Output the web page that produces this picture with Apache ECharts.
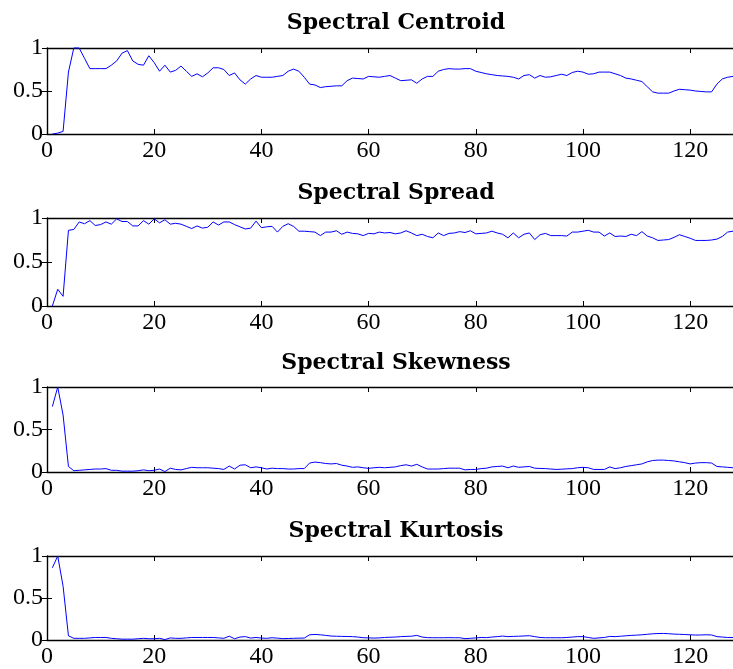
<!DOCTYPE html>
<html>
<head>
<meta charset="utf-8">
<script src="https://cdn.jsdelivr.net/npm/echarts@6/dist/echarts.min.js"></script>
<style>
html,body{margin:0;padding:0;background:#fff;}
#chart{width:733px;height:669px;}
</style>
</head>
<body>
<div id="chart"></div>
<script>
var titles = ["Spectral Centroid", "Spectral Spread", "Spectral Skewness", "Spectral Kurtosis"];
var xTicks = [0, 20, 40, 60, 80, 100, 120];
var yTicks = [0, 0.5, 1];

var centroid = [0,0.01,0.03,0.72,1.0,1.0,0.88,0.76,0.76,0.76,0.76,0.80,0.85,0.94,0.97,0.85,0.81,0.80,0.91,0.83,
0.73,0.80,0.72,0.74,0.79,0.73,0.67,0.70,0.665,0.71,0.77,0.77,0.75,0.68,0.71,0.63,0.58,0.64,0.68,0.66,
0.66,0.66,0.67,0.68,0.73,0.755,0.73,0.66,0.58,0.57,0.54,0.55,0.555,0.56,0.56,0.62,0.65,0.645,0.64,0.67,
0.665,0.66,0.67,0.68,0.65,0.62,0.625,0.63,0.59,0.64,0.67,0.67,0.73,0.75,0.76,0.755,0.755,0.76,0.76,0.73,
0.715,0.70,0.69,0.68,0.675,0.67,0.66,0.64,0.68,0.69,0.65,0.68,0.66,0.665,0.68,0.695,0.68,0.715,0.73,0.72,
0.695,0.70,0.72,0.72,0.72,0.70,0.68,0.65,0.64,0.625,0.61,0.55,0.49,0.475,0.475,0.475,0.50,0.52,0.515,0.51,
0.50,0.495,0.49,0.49,0.58,0.64,0.66,0.67];

var spread = [0,0.19,0.11,0.86,0.87,0.955,0.935,0.97,0.915,0.925,0.955,0.93,0.99,0.96,0.96,0.91,0.91,0.97,0.93,0.99,
0.945,0.98,0.93,0.94,0.93,0.905,0.88,0.91,0.885,0.895,0.955,0.92,0.955,0.955,0.925,0.90,0.875,0.885,0.965,0.89,
0.90,0.905,0.84,0.905,0.935,0.905,0.85,0.85,0.845,0.84,0.80,0.84,0.84,0.855,0.815,0.84,0.825,0.82,0.80,0.825,
0.82,0.84,0.83,0.835,0.82,0.83,0.855,0.83,0.80,0.815,0.79,0.775,0.83,0.80,0.825,0.83,0.845,0.835,0.855,0.82,
0.825,0.83,0.85,0.83,0.815,0.775,0.83,0.775,0.815,0.83,0.755,0.81,0.825,0.80,0.80,0.80,0.795,0.84,0.84,0.85,
0.86,0.84,0.84,0.795,0.83,0.79,0.795,0.79,0.815,0.80,0.845,0.795,0.775,0.745,0.75,0.755,0.78,0.81,0.79,0.77,
0.745,0.745,0.745,0.75,0.76,0.79,0.84,0.85];

var skewness = [0.77,1.0,0.67,0.065,0.015,0.02,0.025,0.03,0.035,0.035,0.04,0.02,0.02,0.01,0.01,0.01,0.015,0.025,0.015,0.02,
0.035,0.005,0.045,0.03,0.025,0.04,0.055,0.05,0.05,0.05,0.045,0.04,0.03,0.07,0.035,0.08,0.085,0.05,0.06,0.05,
0.035,0.045,0.04,0.04,0.035,0.035,0.04,0.04,0.105,0.117,0.11,0.10,0.095,0.10,0.08,0.07,0.055,0.06,0.05,0.043,
0.05,0.055,0.05,0.055,0.06,0.075,0.085,0.07,0.09,0.06,0.035,0.035,0.035,0.04,0.045,0.045,0.045,0.025,0.03,0.03,
0.04,0.045,0.06,0.065,0.07,0.05,0.07,0.055,0.06,0.065,0.045,0.042,0.04,0.035,0.03,0.033,0.037,0.04,0.05,0.055,
0.05,0.03,0.03,0.03,0.06,0.04,0.05,0.065,0.075,0.085,0.095,0.12,0.135,0.14,0.14,0.135,0.13,0.12,0.11,0.095,
0.105,0.11,0.11,0.105,0.065,0.06,0.055,0.05];

var kurtosis = [0.86,1.0,0.64,0.05,0.02,0.02,0.02,0.025,0.03,0.03,0.03,0.02,0.015,0.01,0.01,0.01,0.015,0.02,0.015,0.015,
0.02,0.005,0.025,0.02,0.02,0.025,0.03,0.03,0.03,0.03,0.03,0.025,0.02,0.045,0.015,0.035,0.04,0.023,0.03,0.023,
0.02,0.027,0.022,0.016,0.018,0.02,0.022,0.023,0.062,0.066,0.062,0.055,0.047,0.045,0.043,0.042,0.04,0.035,0.027,0.025,
0.023,0.025,0.03,0.033,0.035,0.04,0.043,0.045,0.055,0.035,0.028,0.027,0.027,0.027,0.028,0.027,0.027,0.016,0.02,0.025,
0.03,0.028,0.035,0.04,0.047,0.04,0.043,0.045,0.048,0.051,0.04,0.03,0.027,0.027,0.027,0.027,0.03,0.035,0.04,0.04,
0.03,0.02,0.025,0.03,0.043,0.04,0.045,0.05,0.055,0.058,0.062,0.068,0.074,0.077,0.078,0.075,0.07,0.068,0.065,0.062,
0.059,0.06,0.062,0.06,0.04,0.035,0.03,0.03];

var seriesValues = [centroid, spread, skewness, kurtosis];
var frames = centroid.map(function (_, i) { return i + 1; });

var gridTops = [48, 218, 387, 556];
var gridHeights = [86, 88, 85, 85];
var titleTops = [7, 177, 347, 515];

var chart = echarts.init(document.getElementById('chart'), null, {renderer: 'canvas'});
var black = '#000';
var labelFont = {fontFamily: "'Liberation Serif', 'Times New Roman', serif", fontSize: 24, color: black};

var option = {
  animation: false,
  backgroundColor: '#fff',
  title: [], grid: [], xAxis: [], yAxis: [], series: []
};

for (var k = 0; k < 4; k++) {
  option.title.push({
    text: titles[k], left: 391, top: titleTops[k], textAlign: 'center',
    textStyle: {fontFamily: 'DejaVu Serif', fontWeight: 'bold', fontSize: 22, color: black}
  });
  option.grid.push({left: 47, right: 0, top: gridTops[k], height: gridHeights[k], containLabel: false});
}
for (var k = 0; k < 4; k++) {
  option.xAxis.push({
    type: 'value', gridIndex: k, min: 0, max: 128, interval: 20, position: 'bottom',
    axisLine: {show: true, onZero: false, lineStyle: {color: black, width: 1.4}},
    axisTick: {show: true, inside: true, length: 5, lineStyle: {color: black}},
    axisLabel: Object.assign({margin: 5, showMaxLabel: false, formatter: function (v) { return xTicks.indexOf(v) >= 0 ? String(v) : ''; }}, labelFont),
    splitLine: {show: false}
  });
  option.yAxis.push({
    type: 'value', gridIndex: k, min: 0, max: 1, interval: 0.5, position: 'left',
    axisLine: {show: true, onZero: false, lineStyle: {color: black, width: 1.4}},
    axisTick: {show: true, inside: true, length: 5, lineStyle: {color: black}},
    axisLabel: Object.assign({margin: 4, formatter: function (v) { return yTicks.indexOf(v) >= 0 ? String(v) : ''; }}, labelFont),
    splitLine: {show: false}
  });
}
for (var k = 0; k < 4; k++) {
  option.xAxis.push({
    type: 'value', gridIndex: k, min: 0, max: 128, interval: 20, position: 'top',
    axisLine: {show: true, onZero: false, lineStyle: {color: black, width: 1.4}},
    axisTick: {show: true, inside: true, length: 5, lineStyle: {color: black}},
    axisLabel: {show: false}, splitLine: {show: false}
  });
  option.yAxis.push({
    type: 'value', gridIndex: k, min: 0, max: 1, interval: 0.5, position: 'right',
    axisLine: {show: false},
    axisTick: {show: true, inside: true, length: 5, lineStyle: {color: black}},
    axisLabel: {show: false}, splitLine: {show: false}
  });
}
for (var k = 0; k < 4; k++) {
  option.series.push({
    type: 'line', xAxisIndex: k, yAxisIndex: k, showSymbol: false, symbol: 'none',
    lineStyle: {color: '#0000ff', width: 1}, clip: false,
    data: seriesValues[k].map(function (v, i) { return [frames[i], v]; })
  });
}
chart.setOption(option);
</script>
</body>
</html>
